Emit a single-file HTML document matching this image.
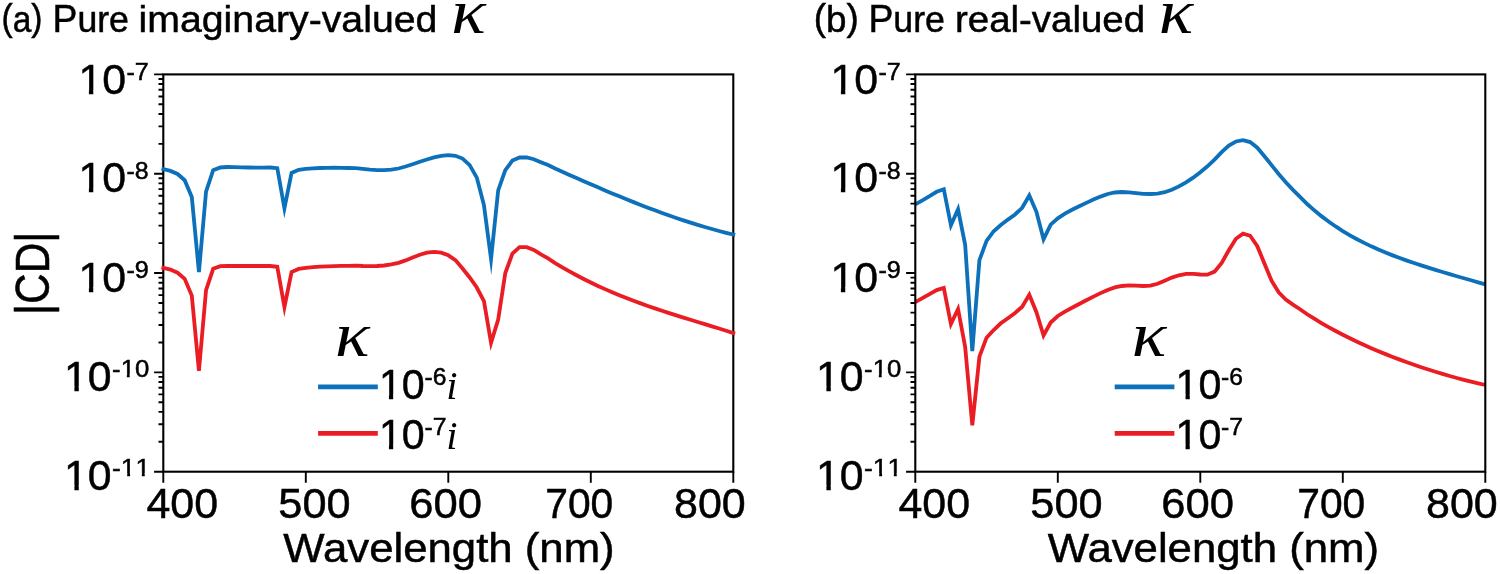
<!DOCTYPE html>
<html lang="en"><head><meta charset="utf-8"><title>CD spectra</title>
<style>html,body{margin:0;padding:0;background:#fff}body{width:1500px;height:574px;overflow:hidden}svg{display:block}</style>
</head><body>
<svg width="1500" height="574" viewBox="0 0 1500 574">
<rect width="1500" height="574" fill="#fff"/>
<text transform="matrix(0.8945 0 0 1.0000 1.54 32.00)" font-family="'Liberation Sans', sans-serif" font-size="37.5" font-weight="normal" font-style="normal" stroke="#000" stroke-width="0.5" stroke-linejoin="miter"><tspan dy="-0.065em">(</tspan><tspan dy="0.065em">a</tspan><tspan dy="-0.065em">)</tspan></text>
<text transform="matrix(0.9515 0 0 1.0000 52.52 32.00)" font-family="'Liberation Sans', sans-serif" font-size="37.5" font-weight="normal" font-style="normal" stroke="#000" stroke-width="0.5" stroke-linejoin="miter"><tspan font-size="1.045em">P</tspan>ure</text>
<text transform="matrix(1.0474 0 0 1.0000 138.50 32.00)" font-family="'Liberation Sans', sans-serif" font-size="37.5" font-weight="normal" font-style="normal" stroke="#000" stroke-width="0.5" stroke-linejoin="miter">imaginary-valued</text>
<text transform="matrix(1.1229 0 0 1.0000 451.28 33.00)" font-family="'Liberation Serif', serif" font-size="64" font-weight="normal" font-style="italic">κ</text>
<text transform="matrix(0.9818 0 0 1.0000 813.84 32.00)" font-family="'Liberation Sans', sans-serif" font-size="37.5" font-weight="normal" font-style="normal" stroke="#000" stroke-width="0.5" stroke-linejoin="miter"><tspan dy="-0.065em">(</tspan><tspan dy="0.065em">b</tspan><tspan dy="-0.065em">)</tspan></text>
<text transform="matrix(0.9529 0 0 1.0000 868.41 32.00)" font-family="'Liberation Sans', sans-serif" font-size="37.5" font-weight="normal" font-style="normal" stroke="#000" stroke-width="0.5" stroke-linejoin="miter"><tspan font-size="1.045em">P</tspan>ure</text>
<text transform="matrix(1.0251 0 0 1.0000 954.95 32.00)" font-family="'Liberation Sans', sans-serif" font-size="37.5" font-weight="normal" font-style="normal" stroke="#000" stroke-width="0.5" stroke-linejoin="miter">real-valued</text>
<text transform="matrix(1.1229 0 0 1.0000 1158.78 33.00)" font-family="'Liberation Serif', serif" font-size="64" font-weight="normal" font-style="italic">κ</text>
<rect x="163.30" y="74.40" width="570.00" height="397.30" fill="none" stroke="#000" stroke-width="2.1"/>
<path d="M154.10 74.40H163.30 M158.50 143.83H163.30 M158.50 126.33H163.30 M158.50 113.93H163.30 M158.50 104.30H163.30 M158.50 96.44H163.30 M158.50 89.79H163.30 M158.50 84.03H163.30 M158.50 78.94H163.30 M154.10 173.73H163.30 M158.50 243.15H163.30 M158.50 225.66H163.30 M158.50 213.25H163.30 M158.50 203.62H163.30 M158.50 195.76H163.30 M158.50 189.11H163.30 M158.50 183.35H163.30 M158.50 178.27H163.30 M154.10 273.05H163.30 M158.50 342.48H163.30 M158.50 324.98H163.30 M158.50 312.58H163.30 M158.50 302.95H163.30 M158.50 295.09H163.30 M158.50 288.44H163.30 M158.50 282.68H163.30 M158.50 277.59H163.30 M154.10 372.38H163.30 M158.50 441.80H163.30 M158.50 424.31H163.30 M158.50 411.90H163.30 M158.50 402.27H163.30 M158.50 394.41H163.30 M158.50 387.76H163.30 M158.50 382.00H163.30 M158.50 376.92H163.30 M154.10 471.70H163.30 M163.30 471.70V482.70 M305.80 471.70V482.70 M448.30 471.70V482.70 M590.80 471.70V482.70 M733.30 471.70V482.70" stroke="#000" stroke-width="1.9" fill="none"/>
<path d="M163.30 267.80 L170.43 269.60 L177.55 272.70 L184.68 278.80 L191.80 295.60 L198.93 370.80 L206.05 290.20 L213.18 268.80 L220.30 266.10 L227.43 266.00 L234.55 266.00 L241.68 266.00 L248.80 266.00 L255.93 266.00 L263.05 266.00 L270.18 266.00 L277.30 266.80 L284.43 307.00 L291.55 272.00 L298.68 268.90 L305.80 267.80 L312.93 267.20 L320.05 266.70 L327.18 266.40 L334.30 266.10 L341.43 265.90 L348.55 265.80 L355.68 265.70 L362.80 266.00 L369.93 266.10 L377.05 266.00 L384.18 265.50 L391.30 264.40 L398.43 262.80 L405.55 260.40 L412.68 257.40 L419.80 254.70 L426.93 252.70 L434.05 251.90 L441.18 252.60 L448.30 255.30 L455.43 260.10 L462.55 268.50 L469.68 277.50 L476.80 287.50 L483.93 301.00 L491.05 342.80 L498.18 319.50 L505.30 273.00 L512.42 253.70 L519.55 247.20 L526.67 247.20 L533.80 249.90 L540.92 254.30 L548.05 258.40 L555.17 263.06 L562.30 267.32 L569.42 271.39 L576.55 275.27 L583.67 278.98 L590.80 282.52 L597.92 285.91 L605.05 289.14 L612.17 292.24 L619.30 295.20 L626.42 298.04 L633.55 300.77 L640.67 303.39 L647.80 305.93 L654.92 308.38 L662.05 310.76 L669.17 313.08 L676.30 315.34 L683.42 317.57 L690.55 319.77 L697.67 321.95 L704.80 324.13 L711.92 326.31 L719.05 328.52 L726.17 330.75 L733.30 333.03" fill="none" stroke="#ea1c24" stroke-width="3.8" stroke-linejoin="miter" stroke-miterlimit="10" stroke-linecap="square"/>
<path d="M163.30 169.20 L170.43 170.90 L177.55 174.00 L184.68 180.20 L191.80 197.00 L198.93 272.00 L206.05 191.60 L213.18 170.20 L220.30 167.50 L227.43 167.00 L234.55 167.20 L241.68 167.40 L248.80 167.50 L255.93 167.60 L263.05 167.60 L270.18 167.50 L277.30 168.20 L284.43 208.30 L291.55 172.90 L298.68 169.80 L305.80 168.80 L312.93 168.40 L320.05 168.00 L327.18 167.80 L334.30 167.70 L341.43 167.80 L348.55 168.00 L355.68 168.20 L362.80 168.90 L369.93 169.70 L377.05 170.20 L384.18 170.20 L391.30 169.70 L398.43 168.50 L405.55 166.50 L412.68 164.20 L419.80 161.80 L426.93 159.50 L434.05 157.40 L441.18 155.80 L448.30 155.10 L455.43 155.80 L462.55 158.60 L469.68 165.10 L476.80 177.60 L483.93 205.10 L491.05 259.00 L498.18 190.40 L505.30 170.20 L512.42 160.60 L519.55 157.40 L526.67 157.50 L533.80 159.20 L540.92 162.20 L548.05 165.10 L555.17 168.58 L562.30 171.75 L569.42 174.92 L576.55 178.06 L583.67 181.19 L590.80 184.29 L597.92 187.36 L605.05 190.40 L612.17 193.40 L619.30 196.35 L626.42 199.26 L633.55 202.12 L640.67 204.92 L647.80 207.66 L654.92 210.34 L662.05 212.95 L669.17 215.49 L676.30 217.95 L683.42 220.34 L690.55 222.64 L697.67 224.86 L704.80 226.99 L711.92 229.02 L719.05 230.96 L726.17 232.80 L733.30 234.54" fill="none" stroke="#0c71ba" stroke-width="3.8" stroke-linejoin="miter" stroke-miterlimit="10" stroke-linecap="square"/>
<path d="M915.30 302.10 L922.42 298.10 L929.55 294.10 L936.67 290.10 L943.80 288.00 L950.92 324.00 L958.05 309.00 L965.17 347.00 L972.30 425.30 L979.42 356.70 L986.55 337.70 L993.67 330.00 L1000.80 323.30 L1007.92 318.20 L1015.05 312.90 L1022.17 306.80 L1029.30 294.80 L1036.42 312.20 L1043.55 335.50 L1050.67 322.50 L1057.80 316.00 L1064.92 311.60 L1072.05 307.80 L1079.17 304.00 L1086.30 300.30 L1093.42 296.60 L1100.55 293.10 L1107.67 289.90 L1114.80 287.40 L1121.92 286.00 L1129.05 285.40 L1136.17 285.60 L1143.30 286.00 L1150.42 285.60 L1157.55 283.80 L1164.67 280.70 L1171.80 277.60 L1178.92 275.30 L1186.05 273.90 L1193.17 273.90 L1200.30 274.50 L1207.42 274.70 L1214.55 271.60 L1221.67 262.90 L1228.80 250.20 L1235.92 238.80 L1243.05 233.70 L1250.17 235.80 L1257.30 246.20 L1264.42 263.40 L1271.55 280.70 L1278.67 292.30 L1285.80 299.50 L1292.92 304.60 L1300.05 309.20 L1307.17 314.25 L1314.30 318.73 L1321.42 323.01 L1328.55 327.10 L1335.67 331.00 L1342.80 334.73 L1349.92 338.31 L1357.05 341.74 L1364.17 345.02 L1371.30 348.18 L1378.42 351.22 L1385.55 354.13 L1392.67 356.94 L1399.80 359.65 L1406.92 362.26 L1414.05 364.77 L1421.17 367.19 L1428.30 369.52 L1435.42 371.76 L1442.55 373.92 L1449.67 375.99 L1456.80 377.98 L1463.92 379.88 L1471.05 381.68 L1478.17 383.40 L1485.30 385.01" fill="none" stroke="#ea1c24" stroke-width="3.8" stroke-linejoin="miter" stroke-miterlimit="10" stroke-linecap="butt"/>
<path d="M915.30 204.40 L922.42 200.30 L929.55 196.20 L936.67 191.80 L943.80 189.20 L950.92 225.30 L958.05 209.30 L965.17 244.80 L972.30 351.20 L979.42 260.20 L986.55 240.80 L993.67 231.20 L1000.80 225.00 L1007.92 219.60 L1015.05 214.50 L1022.17 207.80 L1029.30 195.50 L1036.42 211.80 L1043.55 239.30 L1050.67 224.60 L1057.80 218.30 L1064.92 213.70 L1072.05 209.80 L1079.17 206.30 L1086.30 202.90 L1093.42 199.60 L1100.55 196.60 L1107.67 194.00 L1114.80 192.50 L1121.92 192.00 L1129.05 192.30 L1136.17 193.10 L1143.30 193.80 L1150.42 194.00 L1157.55 193.60 L1164.67 192.20 L1171.80 189.80 L1178.92 186.40 L1186.05 182.40 L1193.17 177.70 L1200.30 172.30 L1207.42 166.30 L1214.55 159.60 L1221.67 152.20 L1228.80 145.50 L1235.92 141.50 L1243.05 140.10 L1250.17 142.10 L1257.30 147.70 L1264.42 156.20 L1271.55 165.10 L1278.67 174.00 L1285.80 182.20 L1292.92 189.80 L1300.05 196.80 L1307.17 204.04 L1314.30 210.32 L1321.42 216.13 L1328.55 221.49 L1335.67 226.46 L1342.80 231.05 L1349.92 235.30 L1357.05 239.25 L1364.17 242.92 L1371.30 246.35 L1378.42 249.55 L1385.55 252.56 L1392.67 255.39 L1399.80 258.08 L1406.92 260.63 L1414.05 263.07 L1421.17 265.41 L1428.30 267.68 L1435.42 269.88 L1442.55 272.03 L1449.67 274.13 L1456.80 276.21 L1463.92 278.26 L1471.05 280.29 L1478.17 282.30 L1485.30 284.31" fill="none" stroke="#0c71ba" stroke-width="3.8" stroke-linejoin="miter" stroke-miterlimit="10" stroke-linecap="butt"/>
<rect x="915.30" y="74.40" width="570.00" height="397.30" fill="none" stroke="#000" stroke-width="2.1"/>
<path d="M906.10 74.40H915.30 M910.50 143.83H915.30 M910.50 126.33H915.30 M910.50 113.93H915.30 M910.50 104.30H915.30 M910.50 96.44H915.30 M910.50 89.79H915.30 M910.50 84.03H915.30 M910.50 78.94H915.30 M906.10 173.73H915.30 M910.50 243.15H915.30 M910.50 225.66H915.30 M910.50 213.25H915.30 M910.50 203.62H915.30 M910.50 195.76H915.30 M910.50 189.11H915.30 M910.50 183.35H915.30 M910.50 178.27H915.30 M906.10 273.05H915.30 M910.50 342.48H915.30 M910.50 324.98H915.30 M910.50 312.58H915.30 M910.50 302.95H915.30 M910.50 295.09H915.30 M910.50 288.44H915.30 M910.50 282.68H915.30 M910.50 277.59H915.30 M906.10 372.38H915.30 M910.50 441.80H915.30 M910.50 424.31H915.30 M910.50 411.90H915.30 M910.50 402.27H915.30 M910.50 394.41H915.30 M910.50 387.76H915.30 M910.50 382.00H915.30 M910.50 376.92H915.30 M906.10 471.70H915.30 M915.30 471.70V482.70 M1057.80 471.70V482.70 M1200.30 471.70V482.70 M1342.80 471.70V482.70 M1485.30 471.70V482.70" stroke="#000" stroke-width="1.9" fill="none"/>
<text transform="matrix(0.9886 0 0 1.0000 78.43 94.40)" font-family="'Liberation Sans', sans-serif" font-size="43.3" font-weight="normal" font-style="normal" stroke="#000" stroke-width="0.5" stroke-linejoin="miter"><tspan style="font-kerning:none">10</tspan></text><path d="M80.14 89.92H88.90V96.15H80.14Z M93.28 89.92H101.70V96.15H93.28Z" fill="#fff"/>
<text transform="matrix(1.0268 0 0 1.0000 126.42 79.90)" font-family="'Liberation Sans', sans-serif" font-size="24.5" font-weight="normal" font-style="normal" stroke="#000" stroke-width="0.5" stroke-linejoin="miter">-7</text>
<text transform="matrix(0.9886 0 0 1.0000 78.43 192.45)" font-family="'Liberation Sans', sans-serif" font-size="43.3" font-weight="normal" font-style="normal" stroke="#000" stroke-width="0.5" stroke-linejoin="miter"><tspan style="font-kerning:none">10</tspan></text><path d="M80.14 187.97H88.90V194.20H80.14Z M93.28 187.97H101.70V194.20H93.28Z" fill="#fff"/>
<text transform="matrix(1.0204 0 0 1.0000 126.42 179.35)" font-family="'Liberation Sans', sans-serif" font-size="24.5" font-weight="normal" font-style="normal" stroke="#000" stroke-width="0.5" stroke-linejoin="miter">-8</text>
<text transform="matrix(0.9886 0 0 1.0000 78.43 291.50)" font-family="'Liberation Sans', sans-serif" font-size="43.3" font-weight="normal" font-style="normal" stroke="#000" stroke-width="0.5" stroke-linejoin="miter"><tspan style="font-kerning:none">10</tspan></text><path d="M80.14 287.02H88.90V293.25H80.14Z M93.28 287.02H101.70V293.25H93.28Z" fill="#fff"/>
<text transform="matrix(1.0268 0 0 1.0000 126.42 277.80)" font-family="'Liberation Sans', sans-serif" font-size="24.5" font-weight="normal" font-style="normal" stroke="#000" stroke-width="0.5" stroke-linejoin="miter">-9</text>
<text transform="matrix(0.9886 0 0 1.0000 63.93 390.65)" font-family="'Liberation Sans', sans-serif" font-size="43.3" font-weight="normal" font-style="normal" stroke="#000" stroke-width="0.5" stroke-linejoin="miter"><tspan style="font-kerning:none">10</tspan></text><path d="M65.64 386.17H74.40V392.40H65.64Z M78.78 386.17H87.20V392.40H78.78Z" fill="#fff"/>
<text transform="matrix(1.0504 0 0 1.0000 112.09 376.65)" font-family="'Liberation Sans', sans-serif" font-size="24.5" font-weight="normal" font-style="normal" stroke="#000" stroke-width="0.5" stroke-linejoin="miter"><tspan style="font-kerning:none">-10</tspan></text><path d="M121.47 373.97H126.83V378.40H121.47Z M129.71 373.97H134.87V378.40H129.71Z" fill="#fff"/>
<text transform="matrix(0.9886 0 0 1.0000 63.93 489.70)" font-family="'Liberation Sans', sans-serif" font-size="43.3" font-weight="normal" font-style="normal" stroke="#000" stroke-width="0.5" stroke-linejoin="miter"><tspan style="font-kerning:none">10</tspan></text><path d="M65.64 485.22H74.40V491.45H65.64Z M78.78 485.22H87.20V491.45H78.78Z" fill="#fff"/>
<text transform="matrix(1.0756 0 0 1.0000 112.06 475.60)" font-family="'Liberation Sans', sans-serif" font-size="24.5" font-weight="normal" font-style="normal" stroke="#000" stroke-width="0.5" stroke-linejoin="miter"><tspan style="font-kerning:none">-11</tspan></text><path d="M121.70 472.92H127.17V477.35H121.70Z M130.09 472.92H135.36V477.35H130.09Z M136.35 472.92H141.82V477.35H136.35Z M144.75 472.92H150.01V477.35H144.75Z" fill="#fff"/>
<text transform="matrix(0.9886 0 0 1.0000 830.43 94.40)" font-family="'Liberation Sans', sans-serif" font-size="43.3" font-weight="normal" font-style="normal" stroke="#000" stroke-width="0.5" stroke-linejoin="miter"><tspan style="font-kerning:none">10</tspan></text><path d="M832.14 89.92H840.90V96.15H832.14Z M845.28 89.92H853.70V96.15H845.28Z" fill="#fff"/>
<text transform="matrix(1.0268 0 0 1.0000 878.42 79.90)" font-family="'Liberation Sans', sans-serif" font-size="24.5" font-weight="normal" font-style="normal" stroke="#000" stroke-width="0.5" stroke-linejoin="miter">-7</text>
<text transform="matrix(0.9886 0 0 1.0000 830.43 192.45)" font-family="'Liberation Sans', sans-serif" font-size="43.3" font-weight="normal" font-style="normal" stroke="#000" stroke-width="0.5" stroke-linejoin="miter"><tspan style="font-kerning:none">10</tspan></text><path d="M832.14 187.97H840.90V194.20H832.14Z M845.28 187.97H853.70V194.20H845.28Z" fill="#fff"/>
<text transform="matrix(1.0204 0 0 1.0000 878.42 179.35)" font-family="'Liberation Sans', sans-serif" font-size="24.5" font-weight="normal" font-style="normal" stroke="#000" stroke-width="0.5" stroke-linejoin="miter">-8</text>
<text transform="matrix(0.9886 0 0 1.0000 830.43 291.50)" font-family="'Liberation Sans', sans-serif" font-size="43.3" font-weight="normal" font-style="normal" stroke="#000" stroke-width="0.5" stroke-linejoin="miter"><tspan style="font-kerning:none">10</tspan></text><path d="M832.14 287.02H840.90V293.25H832.14Z M845.28 287.02H853.70V293.25H845.28Z" fill="#fff"/>
<text transform="matrix(1.0268 0 0 1.0000 878.42 277.80)" font-family="'Liberation Sans', sans-serif" font-size="24.5" font-weight="normal" font-style="normal" stroke="#000" stroke-width="0.5" stroke-linejoin="miter">-9</text>
<text transform="matrix(0.9886 0 0 1.0000 815.93 390.65)" font-family="'Liberation Sans', sans-serif" font-size="43.3" font-weight="normal" font-style="normal" stroke="#000" stroke-width="0.5" stroke-linejoin="miter"><tspan style="font-kerning:none">10</tspan></text><path d="M817.64 386.17H826.40V392.40H817.64Z M830.78 386.17H839.20V392.40H830.78Z" fill="#fff"/>
<text transform="matrix(1.0504 0 0 1.0000 864.09 376.65)" font-family="'Liberation Sans', sans-serif" font-size="24.5" font-weight="normal" font-style="normal" stroke="#000" stroke-width="0.5" stroke-linejoin="miter"><tspan style="font-kerning:none">-10</tspan></text><path d="M873.47 373.97H878.83V378.40H873.47Z M881.71 373.97H886.87V378.40H881.71Z" fill="#fff"/>
<text transform="matrix(0.9886 0 0 1.0000 815.93 489.70)" font-family="'Liberation Sans', sans-serif" font-size="43.3" font-weight="normal" font-style="normal" stroke="#000" stroke-width="0.5" stroke-linejoin="miter"><tspan style="font-kerning:none">10</tspan></text><path d="M817.64 485.22H826.40V491.45H817.64Z M830.78 485.22H839.20V491.45H830.78Z" fill="#fff"/>
<text transform="matrix(1.0756 0 0 1.0000 864.06 475.60)" font-family="'Liberation Sans', sans-serif" font-size="24.5" font-weight="normal" font-style="normal" stroke="#000" stroke-width="0.5" stroke-linejoin="miter"><tspan style="font-kerning:none">-11</tspan></text><path d="M873.70 472.92H879.17V477.35H873.70Z M882.09 472.92H887.36V477.35H882.09Z M888.35 472.92H893.82V477.35H888.35Z M896.75 472.92H902.01V477.35H896.75Z" fill="#fff"/>
<text transform="matrix(0.9914 0 0 1.0000 146.48 518.40)" font-family="'Liberation Sans', sans-serif" font-size="43.3" font-weight="normal" font-style="normal" stroke="#000" stroke-width="0.5" stroke-linejoin="miter">400</text>
<text transform="matrix(1.0008 0 0 1.0000 278.32 518.40)" font-family="'Liberation Sans', sans-serif" font-size="43.3" font-weight="normal" font-style="normal" stroke="#000" stroke-width="0.5" stroke-linejoin="miter">500</text>
<text transform="matrix(1.0071 0 0 1.0000 409.37 518.40)" font-family="'Liberation Sans', sans-serif" font-size="43.3" font-weight="normal" font-style="normal" stroke="#000" stroke-width="0.5" stroke-linejoin="miter">600</text>
<text transform="matrix(0.9428 0 0 1.0000 545.21 518.40)" font-family="'Liberation Sans', sans-serif" font-size="43.3" font-weight="normal" font-style="normal" stroke="#000" stroke-width="0.5" stroke-linejoin="miter">700</text>
<text transform="matrix(0.9937 0 0 1.0000 674.01 518.40)" font-family="'Liberation Sans', sans-serif" font-size="43.3" font-weight="normal" font-style="normal" stroke="#000" stroke-width="0.5" stroke-linejoin="miter">800</text>
<text transform="matrix(0.9914 0 0 1.0000 898.48 518.40)" font-family="'Liberation Sans', sans-serif" font-size="43.3" font-weight="normal" font-style="normal" stroke="#000" stroke-width="0.5" stroke-linejoin="miter">400</text>
<text transform="matrix(1.0008 0 0 1.0000 1030.32 518.40)" font-family="'Liberation Sans', sans-serif" font-size="43.3" font-weight="normal" font-style="normal" stroke="#000" stroke-width="0.5" stroke-linejoin="miter">500</text>
<text transform="matrix(1.0071 0 0 1.0000 1161.37 518.40)" font-family="'Liberation Sans', sans-serif" font-size="43.3" font-weight="normal" font-style="normal" stroke="#000" stroke-width="0.5" stroke-linejoin="miter">600</text>
<text transform="matrix(0.9428 0 0 1.0000 1297.21 518.40)" font-family="'Liberation Sans', sans-serif" font-size="43.3" font-weight="normal" font-style="normal" stroke="#000" stroke-width="0.5" stroke-linejoin="miter">700</text>
<text transform="matrix(0.9937 0 0 1.0000 1426.01 518.40)" font-family="'Liberation Sans', sans-serif" font-size="43.3" font-weight="normal" font-style="normal" stroke="#000" stroke-width="0.5" stroke-linejoin="miter">800</text>
<text transform="matrix(1.0540 0 0 1.0000 283.33 561.50)" font-family="'Liberation Sans', sans-serif" font-size="41.5" font-weight="normal" font-style="normal" stroke="#000" stroke-width="0.5" stroke-linejoin="miter">Wavelength (nm)</text>
<text transform="matrix(1.0540 0 0 1.0000 1047.73 561.50)" font-family="'Liberation Sans', sans-serif" font-size="41.5" font-weight="normal" font-style="normal" stroke="#000" stroke-width="0.5" stroke-linejoin="miter">Wavelength (nm)</text>
<text transform="matrix(0 -0.98 1.115 0 49.0 273.3)" font-family="'Liberation Sans', sans-serif" font-size="43.3" text-anchor="middle" stroke="#000" stroke-width="0.5">|CD|</text>
<text transform="matrix(1.1264 0 0 1.0000 335.08 355.70)" font-family="'Liberation Serif', serif" font-size="64" font-weight="normal" font-style="italic">κ</text>
<path d="M318.1 386.9H377.8" stroke="#0c71ba" stroke-width="4.7"/>
<text transform="matrix(0.9509 0 0 1.0000 378.89 399.00)" font-family="'Liberation Sans', sans-serif" font-size="43.3" font-weight="normal" font-style="normal" stroke="#000" stroke-width="0.5" stroke-linejoin="miter"><tspan style="font-kerning:none">10</tspan></text><path d="M380.48 394.52H388.94V400.75H380.48Z M393.18 394.52H401.33V400.75H393.18Z" fill="#fff"/>
<text transform="matrix(1.0051 0 0 1.0000 424.44 384.90)" font-family="'Liberation Sans', sans-serif" font-size="24.5" font-weight="normal" font-style="normal" stroke="#000" stroke-width="0.5" stroke-linejoin="miter">-6</text>
<text transform="matrix(1.0000 0 0 1.0000 446.37 399.00)" font-family="'Liberation Serif', serif" font-size="40.5" font-weight="normal" font-style="italic">i</text>
<path d="M318.1 433.3H377.8" stroke="#ea1c24" stroke-width="4.7"/>
<text transform="matrix(0.9509 0 0 1.0000 378.89 449.00)" font-family="'Liberation Sans', sans-serif" font-size="43.3" font-weight="normal" font-style="normal" stroke="#000" stroke-width="0.5" stroke-linejoin="miter"><tspan style="font-kerning:none">10</tspan></text><path d="M380.48 444.52H388.94V450.75H380.48Z M393.18 444.52H401.33V450.75H393.18Z" fill="#fff"/>
<text transform="matrix(1.0114 0 0 1.0000 424.43 435.20)" font-family="'Liberation Sans', sans-serif" font-size="24.5" font-weight="normal" font-style="normal" stroke="#000" stroke-width="0.5" stroke-linejoin="miter">-7</text>
<text transform="matrix(1.0000 0 0 1.0000 446.37 449.00)" font-family="'Liberation Serif', serif" font-size="40.5" font-weight="normal" font-style="italic">i</text>
<text transform="matrix(1.1264 0 0 1.0000 1131.68 355.70)" font-family="'Liberation Serif', serif" font-size="64" font-weight="normal" font-style="italic">κ</text>
<path d="M1114.7 386.9H1174.4" stroke="#0c71ba" stroke-width="4.7"/>
<text transform="matrix(0.9509 0 0 1.0000 1175.49 399.00)" font-family="'Liberation Sans', sans-serif" font-size="43.3" font-weight="normal" font-style="normal" stroke="#000" stroke-width="0.5" stroke-linejoin="miter"><tspan style="font-kerning:none">10</tspan></text><path d="M1177.08 394.52H1185.54V400.75H1177.08Z M1189.78 394.52H1197.93V400.75H1189.78Z" fill="#fff"/>
<text transform="matrix(1.0051 0 0 1.0000 1221.04 384.90)" font-family="'Liberation Sans', sans-serif" font-size="24.5" font-weight="normal" font-style="normal" stroke="#000" stroke-width="0.5" stroke-linejoin="miter">-6</text>
<path d="M1114.7 433.3H1174.4" stroke="#ea1c24" stroke-width="4.7"/>
<text transform="matrix(0.9509 0 0 1.0000 1175.49 449.00)" font-family="'Liberation Sans', sans-serif" font-size="43.3" font-weight="normal" font-style="normal" stroke="#000" stroke-width="0.5" stroke-linejoin="miter"><tspan style="font-kerning:none">10</tspan></text><path d="M1177.08 444.52H1185.54V450.75H1177.08Z M1189.78 444.52H1197.93V450.75H1189.78Z" fill="#fff"/>
<text transform="matrix(1.0114 0 0 1.0000 1221.03 435.20)" font-family="'Liberation Sans', sans-serif" font-size="24.5" font-weight="normal" font-style="normal" stroke="#000" stroke-width="0.5" stroke-linejoin="miter">-7</text>
</svg>
</body></html>
